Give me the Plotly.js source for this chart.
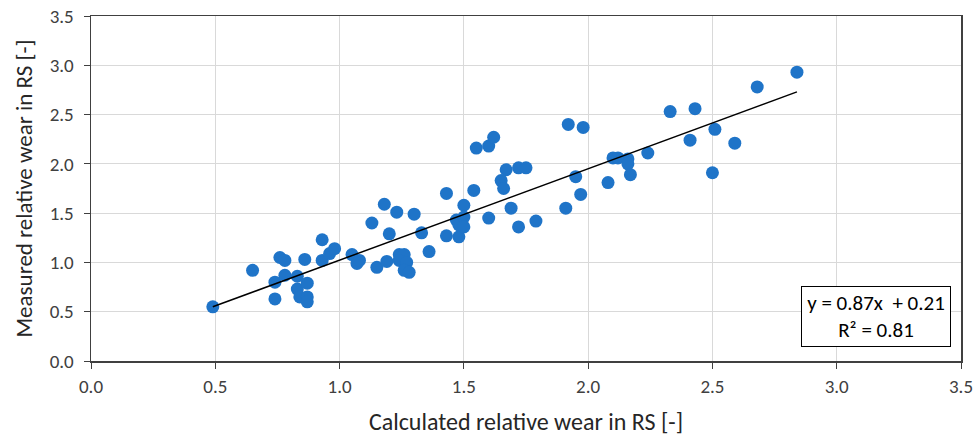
<!DOCTYPE html>
<html>
<head>
<meta charset="utf-8">
<script src="https://cdn.plot.ly/plotly-3.0.1.min.js"></script>
<style>html,body{margin:0;padding:0;background:#fff;}#chart{width:975px;height:441px;}</style>
</head>
<body>
<div id="chart"></div>
<script>
// Calculated relative wear (x) vs measured relative wear (y)
var calculated = [0.49,0.65,0.74,0.74,0.76,0.78,0.78,0.83,0.83,0.84,0.87,0.86,0.87,0.87,0.93,0.93,0.96,0.98,
  1.05,1.07,1.08,1.13,1.15,1.18,1.19,1.20,1.23,1.24,1.26,1.24,1.27,1.26,1.28,1.30,1.33,1.36,
  1.43,1.43,1.47,1.48,1.48,1.50,1.50,1.50,1.54,1.60,1.55,1.60,1.62,1.67,1.65,1.66,1.72,1.75,1.69,1.72,1.79,
  1.91,1.92,1.98,1.95,1.97,2.08,2.10,2.12,2.16,2.16,2.17,2.24,2.33,2.43,2.41,2.51,2.50,2.59,2.68,2.84];
var measured = [0.55,0.92,0.63,0.80,1.05,1.02,0.87,0.86,0.73,0.65,0.79,1.03,0.65,0.60,1.23,1.02,1.09,1.14,
  1.08,0.99,1.02,1.40,0.95,1.59,1.01,1.29,1.51,1.08,1.08,1.02,1.00,0.92,0.90,1.49,1.30,1.11,
  1.27,1.70,1.43,1.38,1.26,1.58,1.46,1.36,1.73,1.45,2.16,2.18,2.27,1.94,1.83,1.75,1.96,1.96,1.55,1.36,1.42,
  1.55,2.40,2.37,1.87,1.69,1.81,2.06,2.06,2.05,2.00,1.89,2.11,2.53,2.56,2.24,2.35,1.91,2.21,2.78,2.93];
// Trend line as drawn in the picture (endpoints)
var trendX = [0.49, 2.84];
var trendY = [0.55, 2.73];
var xTicks = [0.0,0.5,1.0,1.5,2.0,2.5,3.0,3.5];
var yTicks = [0.0,0.5,1.0,1.5,2.0,2.5,3.0,3.5];
var eqText = "y = 0.87x  + 0.21<br>R² = 0.81";

var FONT = "Carlito, Lato, 'Liberation Sans', sans-serif";
var tickText = function(a){ return a.map(function(v){ return v.toFixed(1); }); };

var data = [
  {x: calculated, y: measured, type: 'scatter', mode: 'markers',
   marker: {color: '#1f74c8', size: 13}, hoverinfo: 'x+y', showlegend: false},
  {x: trendX, y: trendY, type: 'scatter', mode: 'lines',
   line: {color: '#000000', width: 1.5}, showlegend: false, hoverinfo: 'skip'}
];

var axisCommon = {
  showgrid: true, gridcolor: '#d9d9d9', gridwidth: 1,
  zeroline: false, showline: true, linecolor: '#404040', linewidth: 1.5,
  mirror: true, ticks: 'outside', ticklen: 6, tickcolor: '#404040', tickwidth: 1,
  tickfont: {family: FONT, size: 19, color: '#404040'}
};

var layout = {
  width: 975, height: 441,
  margin: {l: 91, r: 14, t: 16, b: 80},
  paper_bgcolor: '#ffffff', plot_bgcolor: '#ffffff',
  xaxis: Object.assign({}, axisCommon, {
    range: [0, 3.5], tickvals: xTicks, ticktext: tickText(xTicks), ticklabelstandoff: 2,
    title: {text: 'Calculated relative wear in RS [-]', font: {family: FONT, size: 24, color: '#262626'}, standoff: 16}
  }),
  yaxis: Object.assign({}, axisCommon, {
    range: [0, 3.5], tickvals: yTicks, ticktext: tickText(yTicks), ticklabelstandoff: 6,
    title: {text: 'Measured relative wear in RS [-]', font: {family: FONT, size: 23, color: '#262626'}, standoff: 10}
  }),
  annotations: [{
    xref: 'x', yref: 'y', x: 3.157, y: 0.449, xanchor: 'center', yanchor: 'middle',
    text: eqText, showarrow: false, align: 'center',
    font: {family: FONT, size: 21, color: '#000000'},
    bordercolor: '#000000', borderwidth: 1, borderpad: 3, bgcolor: '#ffffff',
    width: 142
  }]
};

Plotly.newPlot('chart', data, layout, {displayModeBar: false, staticPlot: true});
</script>
</body>
</html>
